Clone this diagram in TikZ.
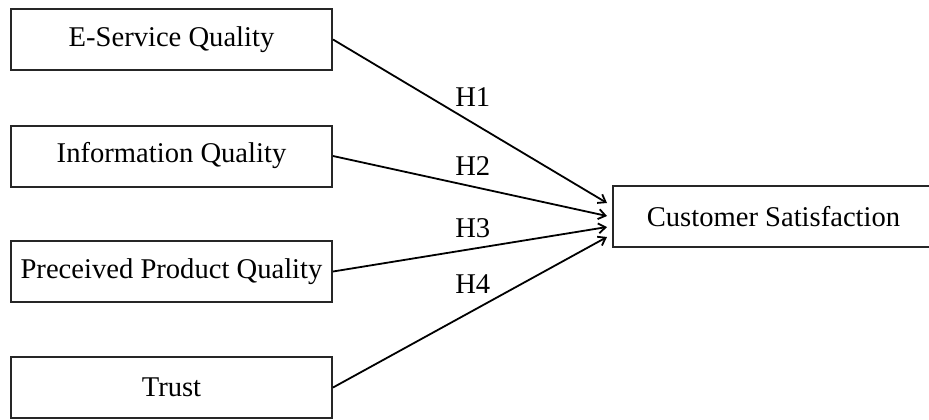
\documentclass[tikz,border=0pt]{standalone}
\usepackage{fontspec}
\setmainfont{Liberation Serif}
\usepackage{tikz}
\usetikzlibrary{arrows.meta}

\begin{document}
\begin{tikzpicture}[x=0.5pt,y=-0.5pt,
  factor/.style={draw=black!85,line width=1pt,minimum width=160.5pt,minimum height=30.5pt,
    inner sep=0pt,font=\fontsize{14.3}{17}\selectfont},
  hyp/.style={draw=black,line width=0.9pt,-{Straight Barb[length=3.5pt,width=5pt]}},
  hlabel/.style={font=\fontsize{14.3}{17}\selectfont,inner sep=0pt}]
\useasboundingbox (0,0) rectangle (929,419);
\clip (0,0) rectangle (929,419);
% Drawing the factor boxes
\node[factor] (esq) at (171.5,39.5) {E-Service Quality};
\node[factor] (inq) at (171.5,156) {Information Quality};
\node[factor] (ppq) at (171.5,271.5) {Preceived Product Quality};
\node[factor] (tru) at (171.5,387.5) {Trust};
% Outcome box, cut by the right border
\node[factor] (csat) at (773.5,216.5) {Customer Satisfaction};
% Arrow ends on the left side of the outcome box
\coordinate (e1) at (607,203);
\coordinate (e2) at (607,216);
\coordinate (e3) at (607,227);
\coordinate (e4) at (607,237);
% Drawing the hypotheses
\draw[hyp] (esq.east) -- (e1) node[hlabel,pos=0.51,above=7.5pt] {H1};
\draw[hyp] (inq.east) -- (e2) node[hlabel,pos=0.51,above=5pt] {H2};
\draw[hyp] (ppq.east) -- (e3) node[hlabel,pos=0.51,above=5pt] {H3};
\draw[hyp] (tru.east) -- (e4) node[hlabel,pos=0.51,above=8pt] {H4};
\end{tikzpicture}
\end{document}
